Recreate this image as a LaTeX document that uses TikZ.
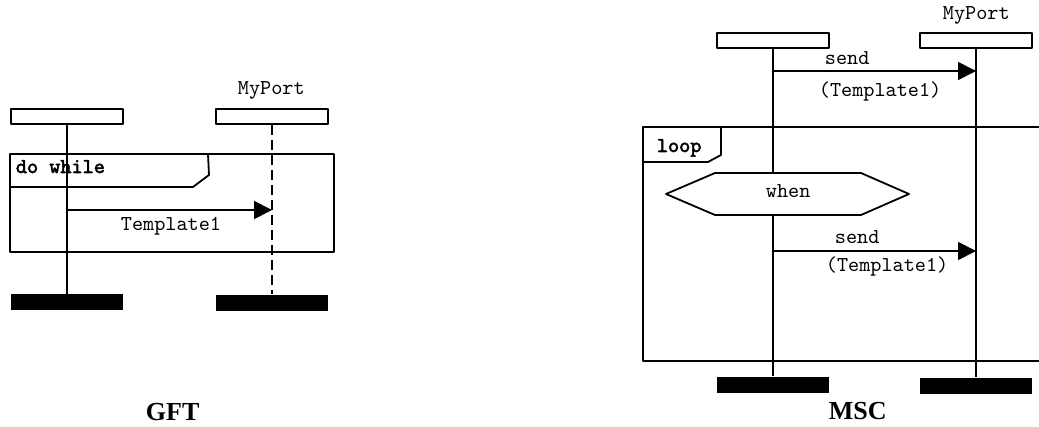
\documentclass[tikz,border=0pt]{standalone}
\usepackage{fontspec}
\setmainfont{Liberation Serif}
\setmonofont{Latin Modern Mono}[AutoFakeBold=2.5]
\usetikzlibrary{arrows.meta}
\tikzset{
  head/.style={draw, minimum width=56pt, minimum height=7.5pt, inner sep=0pt},
  endbar/.style={fill, minimum width=56pt, minimum height=8pt, inner sep=0pt},
  msg/.style={-{Triangle[length=9pt,width=9pt]}},
  lbl/.style={anchor=base west, inner sep=0pt, font=\ttfamily\fontsize{10.6}{12}\selectfont},
  tab/.style={lbl, font=\ttfamily\bfseries\fontsize{10.6}{12}\selectfont},
  caption/.style={anchor=base west, inner sep=0pt, font=\bfseries\fontsize{13}{15}\selectfont}
}
\begin{document}
\begin{tikzpicture}[x=0.5pt, y=-0.5pt, line width=0.9pt, line join=round]
  \def\ga{67} \def\gb{272} \def\ma{773} \def\mb{976}
  \useasboundingbox (0,0) rectangle (1039,427);
  % GFT
  \node[head] (gA) at (\ga,116.5) {};
  \node[head] (gB) at (\gb,116.5) {};
  \node[lbl] (gport) at (237,95) {MyPort};
  \node[endbar] (gAe) at (\ga,302.5) {};
  \node[endbar] (gBe) at (\gb,303) {};
  \draw (gA.south) -- (gAe.north);
  \draw[dash pattern=on 5pt off 2.5pt] (gB.south) -- (gBe.north);
  \draw (10,154) rectangle (334,252);
  \draw (10,187) -- (193,187) -- (209,175) -- (208,154);
  \node[tab] (gloop) at (15,173) {do while};
  \coordinate (gs) at (\ga,210);
  \coordinate (gt) at (\gb,210);
  \draw[msg] (gs) -- (gt);
  \node[lbl] (gmsg) at (120,231) {Template1};
  \node[caption] (gft) at (145,420) {GFT};
  % MSC
  \node[head] (mA) at (\ma,40.5) {};
  \node[head] (mB) at (\mb,40.5) {};
  \node[lbl] (mport) at (942,20) {MyPort};
  \node[endbar] (mAe) at (\ma,385) {};
  \node[endbar] (mBe) at (\mb,386) {};
  \coordinate (s1) at (\ma,71);
  \coordinate (t1) at (\mb,71);
  \draw[msg] (s1) -- (t1);
  \node[lbl] (send1) at (824,65) {send};
  \node[lbl] (par1) at (818,97) {(Template1)};
  \draw (1039,127) -- (643,127) -- (643,361) -- (1039,361);
  \draw (643,162) -- (708,162) -- (721,155) -- (721,127);
  \node[tab] (mloop) at (656,152) {loop};
  \coordinate (wtop) at (\ma,173);
  \coordinate (wbot) at (\ma,215);
  \draw (666,194) -- (715,173) -- (861,173) -- (909,194) -- (861,215) -- (715,215) -- cycle;
  \node[lbl] (when) at (765,198) {when};
  \draw (mA.south) -- (wtop);
  \draw (wbot) -- (mAe.north);
  \draw (mB.south) -- (mBe.north);
  \coordinate (s2) at (\ma,251);
  \coordinate (t2) at (\mb,251);
  \draw[msg] (s2) -- (t2);
  \node[lbl] (send2) at (834,244) {send};
  \node[lbl] (par2) at (825,272) {(Template1)};
  \node[caption] (msc) at (828,419) {MSC};
\end{tikzpicture}
\end{document}
